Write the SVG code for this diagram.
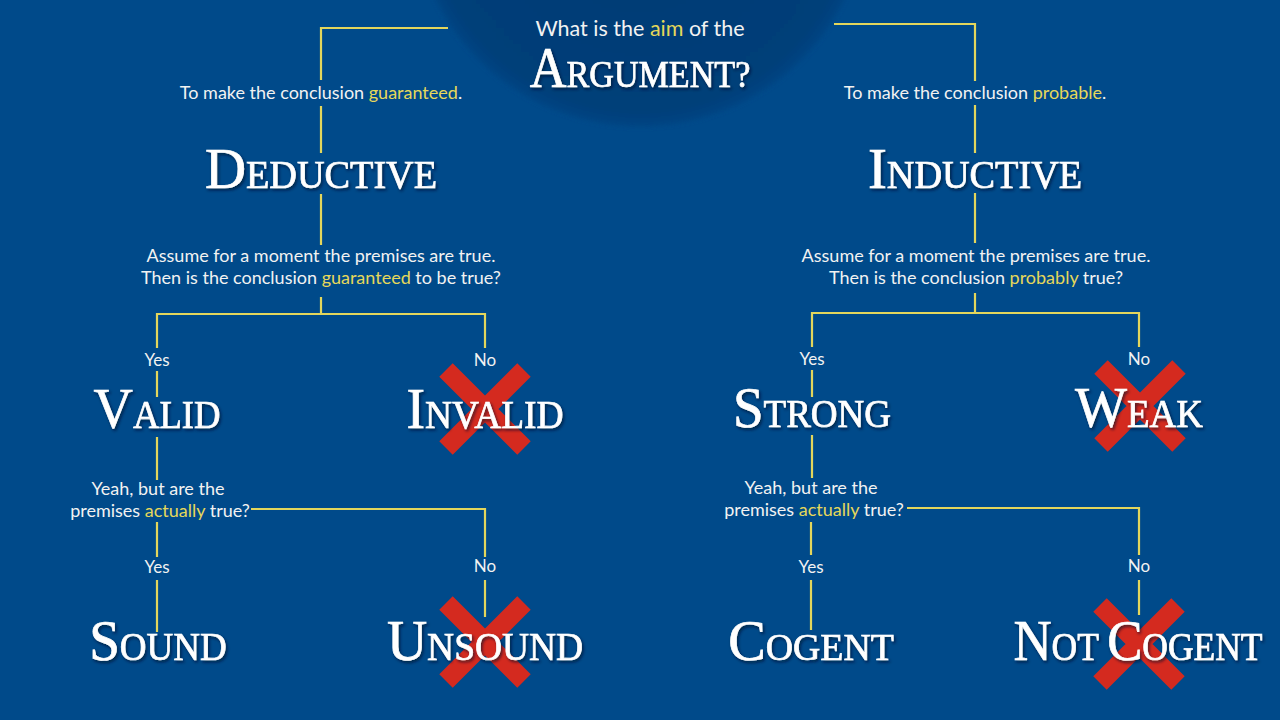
<svg xmlns="http://www.w3.org/2000/svg" width="1280" height="720" viewBox="0 0 1280 720">
<defs>
<radialGradient id="cg" cx="0.5" cy="0.5" r="0.5">
<stop offset="0" stop-color="#003c74"/>
<stop offset="0.93" stop-color="#003f79"/>
<stop offset="1" stop-color="#004584"/>
</radialGradient>
<filter id="sh" x="-10%" y="-20%" width="120%" height="150%">
<feDropShadow dx="1.5" dy="2" stdDeviation="1.5" flood-color="#001428" flood-opacity="0.7"/>
</filter>
<filter id="blur"><feGaussianBlur stdDeviation="2"/></filter>
</defs>
<style>
.conn{fill:none;stroke:#e3d65c;stroke-width:2.2}
.big{font-family:"Liberation Serif","Times New Roman",serif;fill:#ffffff;stroke:#ffffff;stroke-width:0.7;text-anchor:middle;filter:url(#sh)}
.b{font-size:58px}
.s{font-size:39px}
.sm{font-family:Lato,"Noto Sans",sans-serif;fill:#f2f2f2;text-anchor:middle;font-size:18px}
.yl{fill:#e6d85a}
.yn{font-family:Lato,"Noto Sans",sans-serif;fill:#f2f2f2;text-anchor:middle;font-size:17px}
.x{stroke:#d42a1f;stroke-width:19;stroke-linecap:butt}
</style>
<rect width="1280" height="720" fill="#004a8a"/>
<circle cx="640" cy="-102" r="229" fill="url(#cg)" filter="url(#blur)"/>

<g id="connectors">
<path class="conn" d="M448,28 H321 V80 M321,106 V153 M321,194 V245 M321,297 V314 M157,348 V314 H485 V348 M157,371 V397 M157,437 V480 M251,509 H485 V557 M485,580 V617 M157,522 V557 M157,580 V632"/>
<path class="conn" d="M834,24 H975 V81 M975,105 V153 M975,193 V243 M975,293 V313 M812,347 V313 H1139 V347 M812,370 V397 M812,435 V478 M907,508 H1139 V555 M1139,580 V615 M811,522 V555 M811,580 V630"/>
</g>

<g id="title">
<text class="sm" x="640" y="36" style="font-size:21.5px">What is the <tspan class="yl">aim</tspan> of the</text>
<text class="big" transform="translate(640,87) scale(0.91,1)"><tspan style="font-size:56px">A</tspan><tspan style="font-size:37.5px">RGUMENT?</tspan></text>
</g>

<g id="q-deductive-aim">
<text class="sm" x="321" y="99">To make the conclusion <tspan class="yl">guaranteed</tspan>.</text>
</g>
<g id="q-inductive-aim">
<text class="sm" x="975" y="99">To make the conclusion <tspan class="yl">probable</tspan>.</text>
</g>

<g id="deductive">
<text class="big" transform="translate(321,188) scale(0.98,1)"><tspan class="b">D</tspan><tspan class="s">EDUCTIVE</tspan></text>
</g>
<g id="inductive">
<text class="big" transform="translate(975,188) scale(0.98,1)"><tspan class="b">I</tspan><tspan class="s">NDUCTIVE</tspan></text>
</g>

<g id="q-deductive-valid">
<text class="sm" x="321" y="262">Assume for a moment the premises are true.</text>
<text class="sm" x="321" y="284">Then is the conclusion <tspan class="yl">guaranteed</tspan> to be true?</text>
</g>
<g id="q-inductive-strong">
<text class="sm" x="976" y="262">Assume for a moment the premises are true.</text>
<text class="sm" x="976" y="284">Then is the conclusion <tspan class="yl">probably</tspan> true?</text>
</g>

<g id="labels">
<text class="yn" x="157" y="366">Yes</text>
<text class="yn" x="485" y="366">No</text>
<text class="yn" x="812" y="365">Yes</text>
<text class="yn" x="1139" y="365">No</text>
<text class="yn" x="157" y="573">Yes</text>
<text class="yn" x="485" y="572">No</text>
<text class="yn" x="811" y="573">Yes</text>
<text class="yn" x="1139" y="572">No</text>
</g>

<g id="valid">
<text class="big" transform="translate(157,428) scale(0.94,1)"><tspan class="b">V</tspan><tspan class="s">ALID</tspan></text>
</g>
<g id="invalid">
<path class="x" d="M446,370 L524,448 M524,370 L446,448"/>
<text class="big" transform="translate(485,428) scale(0.96,1)"><tspan class="b">I</tspan><tspan class="s">NVALID</tspan></text>
</g>
<g id="strong">
<text class="big" transform="translate(812,427) scale(0.95,1)"><tspan class="b">S</tspan><tspan class="s">TRONG</tspan></text>
</g>
<g id="weak">
<path class="x" d="M1101,367 L1179,445 M1179,367 L1101,445"/>
<text class="big" transform="translate(1139,427) scale(0.95,1)"><tspan class="b">W</tspan><tspan class="s">EAK</tspan></text>
</g>

<g id="q-deductive-sound">
<text class="sm" x="158" y="495">Yeah, but are the</text>
<text class="sm" x="160" y="517">premises <tspan class="yl">actually</tspan> true?</text>
</g>
<g id="q-inductive-cogent">
<text class="sm" x="811" y="494">Yeah, but are the</text>
<text class="sm" x="814" y="516">premises <tspan class="yl">actually</tspan> true?</text>
</g>

<g id="sound">
<text class="big" transform="translate(158,660) scale(0.95,1)"><tspan class="b">S</tspan><tspan class="s">OUND</tspan></text>
</g>
<g id="unsound">
<path class="x" d="M446,603 L524,681 M524,603 L446,681"/>
<text class="big" transform="translate(485,660) scale(0.96,1)"><tspan class="b">U</tspan><tspan class="s">NSOUND</tspan></text>
</g>
<g id="cogent">
<text class="big" transform="translate(811,660) scale(0.97,1)"><tspan class="b">C</tspan><tspan class="s">OGENT</tspan></text>
</g>
<g id="not-cogent">
<path class="x" d="M1100,605 L1178,683 M1178,605 L1100,683"/>
<text class="big" transform="translate(1138,660) scale(0.91,1)"><tspan class="b">N</tspan><tspan class="s">OT </tspan><tspan class="b">C</tspan><tspan class="s">OGENT</tspan></text>
</g>
</svg>
